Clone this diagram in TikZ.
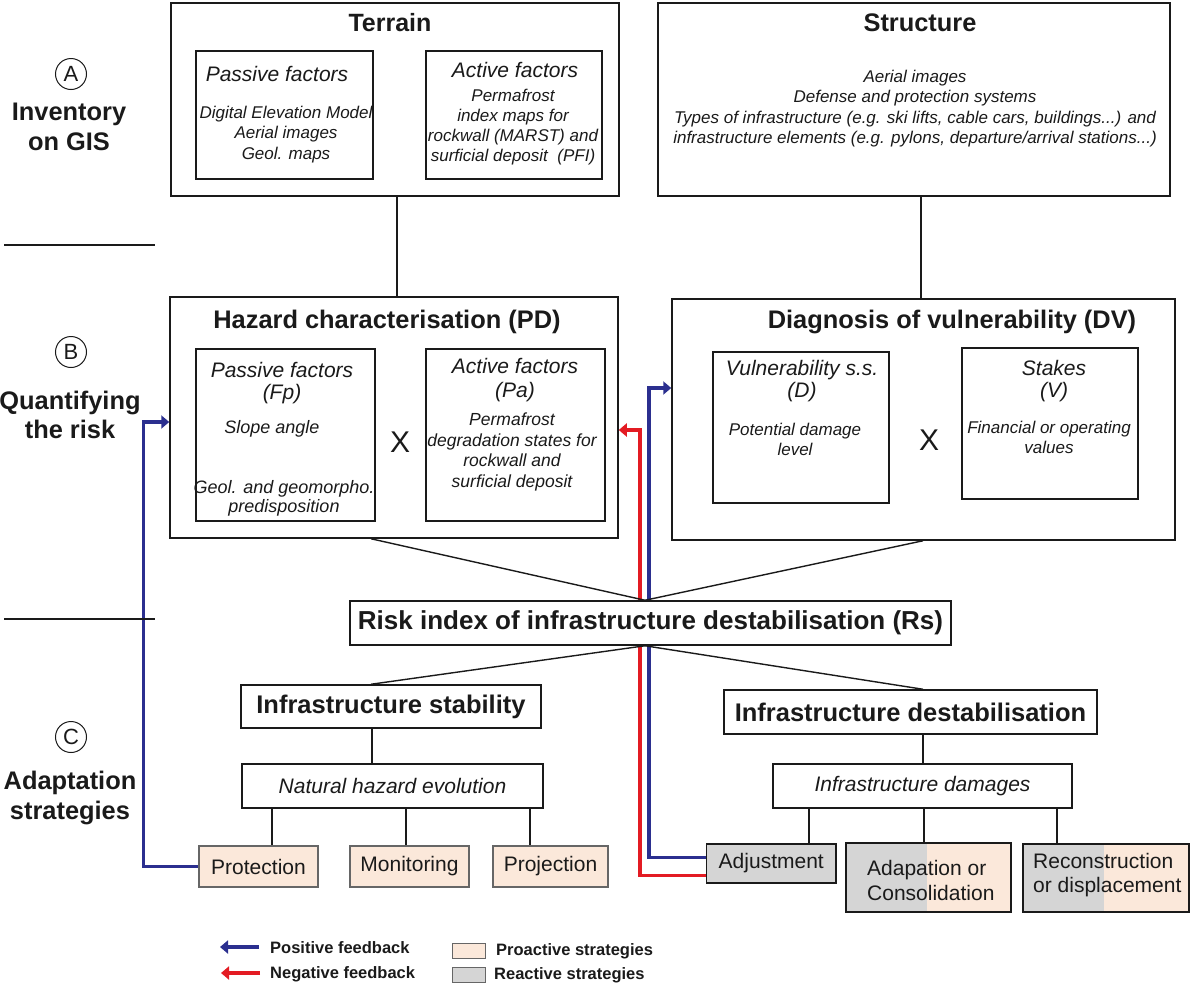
\documentclass[tikz,border=0pt]{standalone}
\usepackage{fontspec}
\setmainfont{Liberation Sans}
\usetikzlibrary{arrows.meta,calc}
\pgfdeclarelayer{bg}
\pgfsetlayers{bg,main}
\definecolor{peach}{HTML}{FBE8DA}
\definecolor{rgray}{HTML}{D5D5D5}
\definecolor{fbblue}{HTML}{2B2F8F}
\definecolor{fbred}{HTML}{E31B23}
\definecolor{ink}{HTML}{1A1A1A}
\newcommand{\myfs}[2]{\fontsize{#1}{#2}\selectfont}
\newcommand{\rbox}[7][]{\node[box,minimum width={(#5-#3)*1pt},minimum height={(#6-#4)*1pt},#1] (#2) at ({(#3+#5)/2},{(#4+#6)/2}) {#7};}
\begin{document}
\begin{tikzpicture}[x=1pt,y=-1pt,
  box/.style={draw=ink,line width=1.5pt,inner sep=0pt,fill=white,text=ink},
  txt/.style={inner sep=0pt,text=ink,align=center},
  btitle/.style={txt,font=\myfs{25.4}{30}\bfseries},
  ihead/.style={txt,font=\myfs{21}{22}\itshape},
  ibody/.style={txt,font=\myfs{17}{20.4}\itshape},
  conn/.style={draw=ink,line width=1.4pt},
  circ/.style={circle,draw=ink,line width=1pt,minimum size=31pt,inner sep=0pt,font=\myfs{22}{22},text=ink},
  proact/.style={draw=black!60,line width=1.1pt,fill=peach,font=\myfs{21}{25}},
  react/.style={draw=ink,line width=1.5pt,fill=rgray,font=\myfs{21}{25}},
  mixed/.style={draw=ink,line width=2pt,fill=peach,path picture={\fill[rgray] (path picture bounding box.north west) rectangle ([xshift=81pt]path picture bounding box.south west);}},
  fbpos/.style={draw=fbblue,line width=3.2pt,-{Triangle[length=8pt,width=13pt]}},
  fbneg/.style={draw=fbred,line width=3.2pt,-{Triangle[length=8pt,width=13pt]}},
  legtxt/.style={txt,anchor=west,font=\myfs{16.5}{18}\bfseries}
]
\useasboundingbox (0,0) rectangle (1190,989);

% left labels
\node[circ] (ca) at (71,74) {A};
\node[btitle,font=\myfs{25.4}{30}\bfseries] (la) at (69,127) {Inventory\\on GIS};
\draw[conn] (4,245) -- (155,245);
\node[circ] (cb) at (71,352) {B};
\node[btitle,font=\myfs{25.4}{29}\bfseries] (lb) at (70,414.5) {Quantifying\\the risk};
\draw[conn] (4,619) -- (155,619);
\node[circ] (cc) at (71,737) {C};
\node[btitle] (lc) at (70,798) {Adaptation\\strategies};

% terrain
\rbox{terrain}{171}{3}{619}{196}{}
\node[btitle,font=\myfs{25}{30}\bfseries] (tt) at (390,23) {Terrain};
\rbox{tpas}{196}{51}{373}{179}{}
\node[ihead] (tpash) at (277,74) {Passive factors};
\node[ibody,font=\myfs{17}{20.5}\itshape] (tpasb) at (286,134.5) {Digital Elevation Model\\Aerial images\\Geol. maps};
\rbox{tact}{426}{51}{602}{179}{}
\node[ihead] (tacth) at (515,70) {Active factors};
\node[ibody,font=\myfs{17}{20}\itshape] (tactb) at (513,127) {Permafrost\\index maps for\\rockwall (MARST) and\\surficial deposit\ \ (PFI)};

% structure
\rbox{struct}{658}{3}{1170}{196}{}
\node[btitle] (st) at (920,23) {Structure};
\node[ibody] (stb) at (915,108.5) {Aerial images\\Defense and protection systems\\Types of infrastructure (e.g. ski lifts, cable cars, buildings...) and\\infrastructure elements (e.g. pylons, departure/arrival stations...)};

% hazard
\rbox{hazard}{170}{297}{618}{538}{}
\node[btitle] (ht) at (387,322) {Hazard characterisation (PD)};
\rbox{fp}{196}{349}{375}{521}{}
\node[ihead] (fph) at (282,383) {Passive factors\\(Fp)};
\node[txt,font=\myfs{18}{19}\itshape] (fps) at (272,429) {Slope angle};
\node[txt,font=\myfs{18}{19}\itshape] (fpg) at (284,498.5) {Geol. and geomorpho.\\predisposition};
\node[txt,font=\myfs{30}{30}] (x1) at (400,442) {X};
\rbox{pa}{426}{349}{605}{521}{}
\node[ihead,font=\myfs{21}{24}\itshape] (pah) at (515,380) {Active factors\\(Pa)};
\node[txt,font=\myfs{17.5}{20.7}\itshape] (pab) at (512,452) {Permafrost\\degradation states for\\rockwall and\\surficial deposit};

% diagnosis
\rbox{dv}{672}{299}{1175}{540}{}
\node[btitle] (dvt) at (952,322) {Diagnosis of vulnerability (DV)};
\rbox{dd}{713}{352}{889}{503}{}
\node[ihead] (ddh) at (802,381) {Vulnerability s.s.\\(D)};
\node[txt,font=\myfs{17}{20}\itshape] (ddb) at (795,439) {Potential damage\\level};
\node[txt,font=\myfs{30}{30}] (x2) at (929,440) {X};
\rbox{vv}{962}{348}{1138}{499}{}
\node[ihead] (vvh) at (1054,381) {Stakes\\(V)};
\node[txt,font=\myfs{17}{19.5}\itshape] (vvb) at (1049,437.5) {Financial or operating\\values};

% risk and outcomes
\rbox[font=\myfs{26}{30}\bfseries]{rs}{350}{601}{951}{645}{Risk index of infrastructure destabilisation (Rs)}
\rbox[font=\myfs{25.5}{30}\bfseries]{stab}{241}{685}{541}{728}{Infrastructure stability}
\rbox[font=\myfs{25.5}{30}\bfseries]{destab}{724}{690}{1097}{734}{Infrastructure destabilisation}
\rbox[font=\myfs{21}{25}\itshape]{nat}{242}{764}{543}{808}{Natural hazard evolution}
\rbox[font=\myfs{21}{25}\itshape]{dam}{773}{764}{1072}{808}{Infrastructure damages}

% strategies
\rbox[proact]{prot}{199}{846}{318}{887}{Protection}
\rbox[proact]{moni}{350}{846}{469}{887}{Monitoring}
\rbox[proact]{proj}{493}{846}{608}{887}{Projection}
\rbox[react]{adj}{706.5}{844}{836}{883}{Adjustment}
\rbox[mixed]{adapt}{846}{843}{1011}{912}{}
\node[txt,align=left,anchor=west,font=\myfs{21}{25}] (adaptt) at (867,880.5) {Adapation or\\Consolidation};
\rbox[mixed]{recon}{1023}{844}{1189}{912}{}
\node[txt,align=left,anchor=west,font=\myfs{21}{24}] (recont) at (1033,875) {Reconstruction\\or displacement};

% connector x positions
\coordinate (xt) at (397,0);
\coordinate (xs) at (921,0);
\coordinate (xr) at (645,0);
\coordinate (xh) at (371,0);
\coordinate (xd) at (923,0);
\coordinate (xst) at (372,0);
\coordinate (xp1) at (272,0);
\coordinate (xp2) at (406,0);
\coordinate (xp3) at (530,0);
\coordinate (xa1) at (809,0);
\coordinate (xa2) at (924,0);
\coordinate (xa3) at (1057,0);

\draw[conn] (terrain.south -| xt) -- (hazard.north -| xt);
\draw[conn] (struct.south -| xs) -- (dv.north -| xs);
\draw[conn] (hazard.south -| xh) -- (rs.north -| xr);
\draw[conn] (dv.south -| xd) -- (rs.north -| xr);
\draw[conn] (rs.south -| xr) -- (stab.north -| xh);
\draw[conn] (rs.south -| xr) -- (destab.north -| xd);
\draw[conn] (stab.south -| xst) -- (nat.north -| xst);
\draw[conn] (nat.south -| xp1) -- (prot.north -| xp1);
\draw[conn] (nat.south -| xp2) -- (moni.north -| xp2);
\draw[conn] (nat.south -| xp3) -- (proj.north -| xp3);
\draw[conn] (destab.south -| xd) -- (dam.north -| xd);
\draw[conn] (dam.south -| xa1) -- (adj.north -| xa1);
\draw[conn] (dam.south -| xa2) -- (adapt.north -| xa2);
\draw[conn] (dam.south -| xa3) -- (recon.north -| xa3);

% feedback arrows
\coordinate (b1) at (143.5,422);
\coordinate (r1) at (640,430);
\coordinate (b2) at (649,388);
\begin{pgfonlayer}{bg}
\draw[fbpos] (prot.west) -| (b1) -- (b1 -| hazard.west);
\draw[fbneg] ($(adj.south west)+(0,-8)$) -| (r1) -- (r1 -| hazard.east);
\draw[fbpos] ($(adj.north west)+(0,14)$) -| (b2) -- (b2 -| dv.west);
\end{pgfonlayer}

% legend
\coordinate (lg1a) at (259,947);
\coordinate (lg1b) at (220,947);
\coordinate (lg2a) at (260,973);
\coordinate (lg2b) at (221,973);
\draw[fbpos] (lg1a) -- (lg1b);
\node[legtxt] (lpos) at (270,948) {Positive feedback};
\draw[fbneg] (lg2a) -- (lg2b);
\node[legtxt] (lneg) at (270,974) {Negative feedback};
\rbox[draw=black!60,line width=1pt,fill=peach]{sw1}{452}{943}{485}{958}{}
\node[legtxt] (lpro) at (496,951) {Proactive strategies};
\rbox[draw=black!60,line width=1pt,fill=rgray]{sw2}{452}{967}{485}{982}{}
\node[legtxt] (lrea) at (494,975) {Reactive strategies};
\end{tikzpicture}
\end{document}
